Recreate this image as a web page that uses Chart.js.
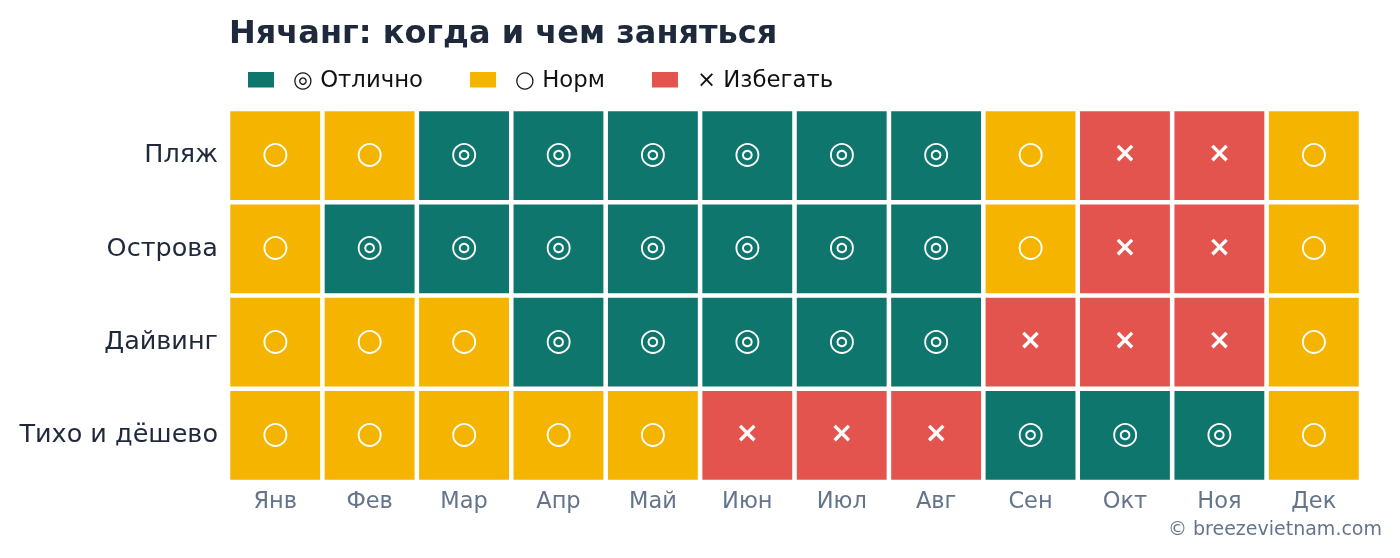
<!DOCTYPE html>
<html>
<head>
<meta charset="utf-8">
<script src="https://cdn.jsdelivr.net/npm/chart.js@4.4.1/dist/chart.umd.min.js"></script>
<style>
    html, body { margin: 0; padding: 0; background: #ffffff; }
</style>
</head>
<body>
<canvas id="season-chart" width="1400" height="558"></canvas>
<script>
// Nha Trang - what to do and when (heatmap via stacked bars)

const months = ['Янв', 'Фев', 'Мар', 'Апр', 'Май', 'Июн', 'Июл', 'Авг', 'Сен', 'Окт', 'Ноя', 'Дек'];
const activities = ['Пляж', 'Острова', 'Дайвинг', 'Тихо и дёшево'];

// 2 = отлично, 1 = норм, 0 = избегать
const beach   = [1, 1, 2, 2, 2, 2, 2, 2, 1, 0, 0, 1];
const islands = [1, 2, 2, 2, 2, 2, 2, 2, 1, 0, 0, 1];
const diving  = [1, 1, 1, 2, 2, 2, 2, 2, 0, 0, 0, 1];
const quiet   = [1, 1, 1, 1, 1, 0, 0, 0, 2, 2, 2, 1];

const levelNames = ['Избегать', 'Норм', 'Отлично'];
const levelSymbols = ['×', '○', '◎'];
const levelColors = ['#e4544e', '#f4b400', '#0f766e'];

const titleText = 'Нячанг: когда и чем заняться';
const footerText = '© breezevietnam.com';
const FONT = '"DejaVu Sans", "Noto Sans", sans-serif';

// bottom row first so "Пляж" ends up on top of the stack
const rows = [quiet, diving, islands, beach];
const rowNames = activities.slice().reverse();

const datasets = rows.map((row, i) => ({
    label: rowNames[i],
    data: row.map(() => 1),
    status: row,
    backgroundColor: row.map(v => levelColors[v]),
    borderColor: '#ffffff',
    borderWidth: 2.6,
    borderSkipped: false,
    barPercentage: 1,
    categoryPercentage: 1
}));

// Symbols inside the cells
const cellSymbols = {
    id: 'cellSymbols',
    afterDatasetsDraw(chart) {
        const ctx = chart.ctx;
        ctx.save();
        ctx.fillStyle = '#ffffff';
        ctx.textAlign = 'center';
        ctx.textBaseline = 'middle';
        chart.data.datasets.forEach((ds, di) => {
            chart.getDatasetMeta(di).data.forEach((bar, i) => {
                const lvl = ds.status[i];
                const cy = (bar.y + bar.base) / 2;
                ctx.font = (lvl === 0 ? 'bold 28px ' : '31px ') + FONT;
                ctx.fillText(levelSymbols[lvl], bar.x, cy - 0.5);
            });
        });
        ctx.restore();
    }
};

// Title, legend and footer
const header = {
    id: 'header',
    afterDraw(chart) {
        const ctx = chart.ctx;
        ctx.save();

        ctx.fillStyle = '#1e293b';
        ctx.font = 'bold 32px ' + FONT;
        ctx.textAlign = 'left';
        ctx.textBaseline = 'alphabetic';
        ctx.fillText(titleText, 229, 43);

        // legend
        let x = 248;
        ctx.font = '22.8px ' + FONT;
        [2, 1, 0].forEach(lvl => {
            ctx.fillStyle = levelColors[lvl];
            ctx.fillRect(x, 72, 26, 15.5);
            x += 26 + 19;
            const label = levelSymbols[lvl] + ' ' + levelNames[lvl];
            ctx.fillStyle = '#111111';
            ctx.fillText(label, x, 87);
            x += ctx.measureText(label).width + 47;
        });

        // footer
        ctx.fillStyle = '#64748b';
        ctx.font = '19px ' + FONT;
        ctx.textAlign = 'right';
        ctx.fillText(footerText, 1382, 535);

        ctx.restore();
    }
};

const chartCtx = document.getElementById('season-chart');
new Chart(chartCtx, {
    type: 'bar',
    data: {
        labels: months,
        datasets: datasets
    },
    options: {
        responsive: false,
        animation: false,
        layout: {
            padding: { top: 109, right: 39, bottom: 0, left: 0 }
        },
        plugins: {
            legend: { display: false },
            tooltip: { enabled: false },
            title: { display: false }
        },
        scales: {
            x: {
                stacked: true,
                grid: { display: false, drawTicks: false },
                border: { display: false },
                ticks: {
                    color: '#64748b',
                    font: { family: FONT, size: 22.5 },
                    padding: 7
                },
                afterFit(scale) {
                    scale.height = 76;
                }
            },
            y: {
                stacked: true,
                min: 0,
                max: 4,
                grid: { display: false, drawTicks: false },
                border: { display: false },
                afterBuildTicks(axis) {
                    axis.ticks = activities.map((_, i) => ({ value: 3.5 - i }));
                },
                ticks: {
                    color: '#1e293b',
                    font: { family: FONT, size: 25.5 },
                    padding: 10,
                    callback: (value) => activities[3.5 - value]
                },
                afterFit(scale) {
                    scale.width = 228;
                }
            }
        }
    },
    plugins: [cellSymbols, header]
});
</script>
</body>
</html>
